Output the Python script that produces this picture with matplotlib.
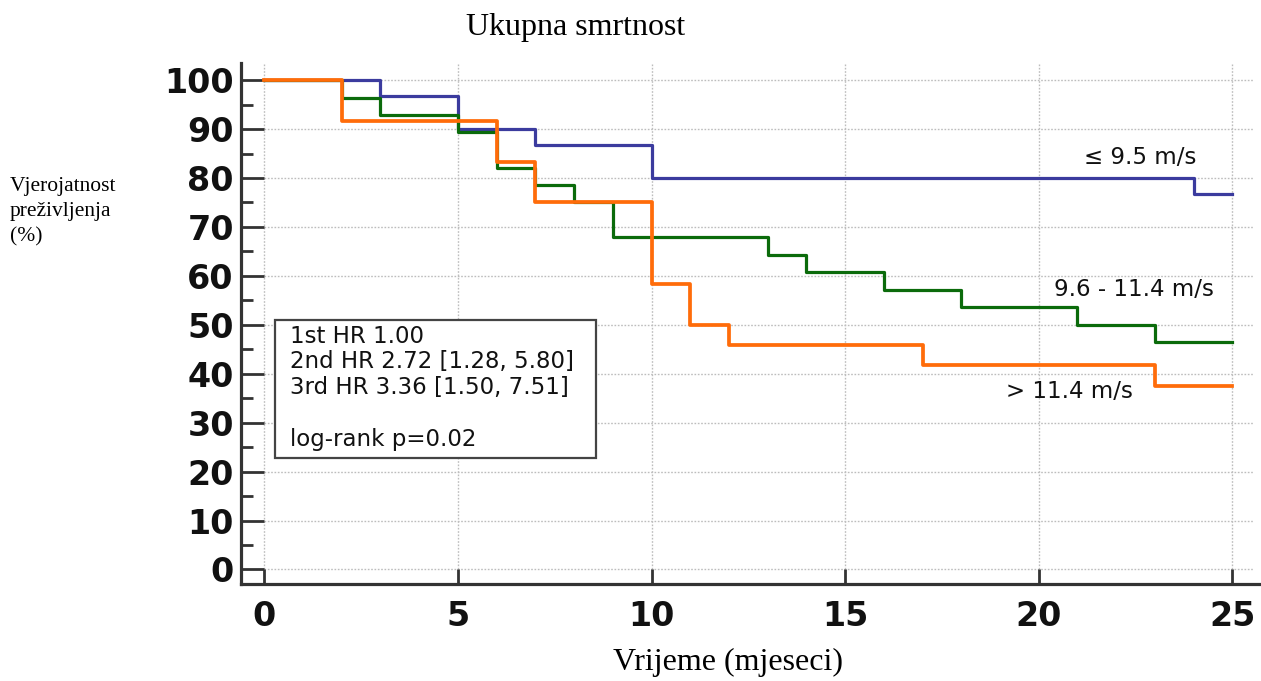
import matplotlib
matplotlib.use("Agg")
import matplotlib.pyplot as plt
from matplotlib.patches import Rectangle
from matplotlib.ticker import MultipleLocator

# ---- data ----
t_low = [0, 3, 5, 7, 10, 24, 25]
s_low = [100, 96.7, 90.0, 86.7, 80.0, 76.7, 76.7]

t_mid = [0, 2, 3, 5, 6, 7, 8, 9, 13, 14, 16, 18, 21, 23, 25]
s_mid = [100, 96.4, 92.9, 89.3, 82.1, 78.6, 75.0, 67.9, 64.3, 60.7, 57.1, 53.6, 50.0, 46.4, 46.4]

t_high = [0, 2, 6, 7, 10, 11, 12, 17, 23, 25]
s_high = [100, 91.7, 83.3, 75.0, 58.3, 50.0, 45.8, 41.7, 37.5, 37.5]

group_labels = ["\u2264 9.5 m/s", "9.6 - 11.4 m/s", "> 11.4 m/s"]
hr_lines = ["1st HR 1.00", "2nd HR 2.72 [1.28, 5.80]", "3rd HR 3.36 [1.50, 7.51]", "", "log-rank p=0.02"]
x_ticks = [0, 5, 10, 15, 20, 25]
y_ticks = [0, 10, 20, 30, 40, 50, 60, 70, 80, 90, 100]

title = "Ukupna smrtnost"
xlabel = "Vrijeme (mjeseci)"
ylabel = "Vjerojatnost\npreživljenja\n(%)"

# ---- figure ----
W, H = 1261, 681
fig = plt.figure(figsize=(W / 100, H / 100), dpi=100)
ax = fig.add_axes([240.7 / W, 1 - 584.3 / H, 1 - 240.7 / W, (584.3 - 63) / H])
ax.set_xlim(-0.61, 25.74)
ax.set_ylim(-3.03, 103.5)

# grid (dotted)
grid_kw = dict(color="#bdbdbd", lw=1.0, linestyle=(0, (1.2, 1.2)), zorder=1)
for yv in y_ticks:
    ax.plot([0, 25.55], [yv, yv], **grid_kw)
for xv in x_ticks:
    ax.plot([xv, xv], [0, 103.2], **grid_kw)

# curves
ax.step(t_low, s_low, where="post", color="#3b3b9e", lw=2.3, zorder=3)
ax.step(t_mid, s_mid, where="post", color="#0b6b0b", lw=2.3, zorder=4)
ax.step(t_high, s_high, where="post", color="#ff6c0a", lw=2.7, zorder=5)

# spines
for s in ["top", "right"]:
    ax.spines[s].set_visible(False)
for s in ["left", "bottom"]:
    ax.spines[s].set_color("#333333")
    ax.spines[s].set_linewidth(2.3)

ax.set_xticks(x_ticks)
ax.set_yticks(y_ticks)
ax.yaxis.set_minor_locator(MultipleLocator(5))
ax.tick_params(axis="y", which="major", direction="in", length=16.5, width=2.0,
               color="#333333", pad=5, labelsize=24)
ax.tick_params(axis="y", which="minor", direction="in", length=8.5, width=2.0,
               color="#333333")
ax.tick_params(axis="x", which="major", direction="in", length=10.5, width=2.0,
               color="#333333", pad=11, labelsize=24)
for lab in ax.get_xticklabels() + ax.get_yticklabels():
    lab.set_fontfamily("DejaVu Sans")
    lab.set_fontweight("bold")
    lab.set_color("#111111")

# group labels
ann_kw = dict(fontsize=16.5, family="DejaVu Sans", color="#111111", ha="right", va="center")
ax.text(24.06, 84.1, group_labels[0], **ann_kw)
ax.text(24.53, 57.3, group_labels[1], **ann_kw)
ax.text(22.43, 36.3, group_labels[2], **ann_kw)

# HR box
ax.add_patch(Rectangle((0.28, 22.8), 8.28, 28.2, fill=True, facecolor="white",
                       edgecolor="#444444", lw=1.6, zorder=6))
ax.text(0.66, 50.0, "\n".join(hr_lines), fontsize=16.5, family="DejaVu Sans",
        color="#111111", ha="left", va="top", linespacing=1.15, zorder=7)

# titles / labels
fig.text(576 / W, 1 - 28 / H, title, fontsize=23, family="Liberation Serif",
         ha="center", va="center", color="black")
fig.text(728 / W, 1 - 662 / H, xlabel, fontsize=23, family="Liberation Serif",
         ha="center", va="center", color="black")
fig.text(10 / W, 1 - 177 / H, ylabel, fontsize=15.5, family="Liberation Serif",
         ha="left", va="top", color="black", linespacing=1.45)

fig.savefig("out.png", dpi=100)
